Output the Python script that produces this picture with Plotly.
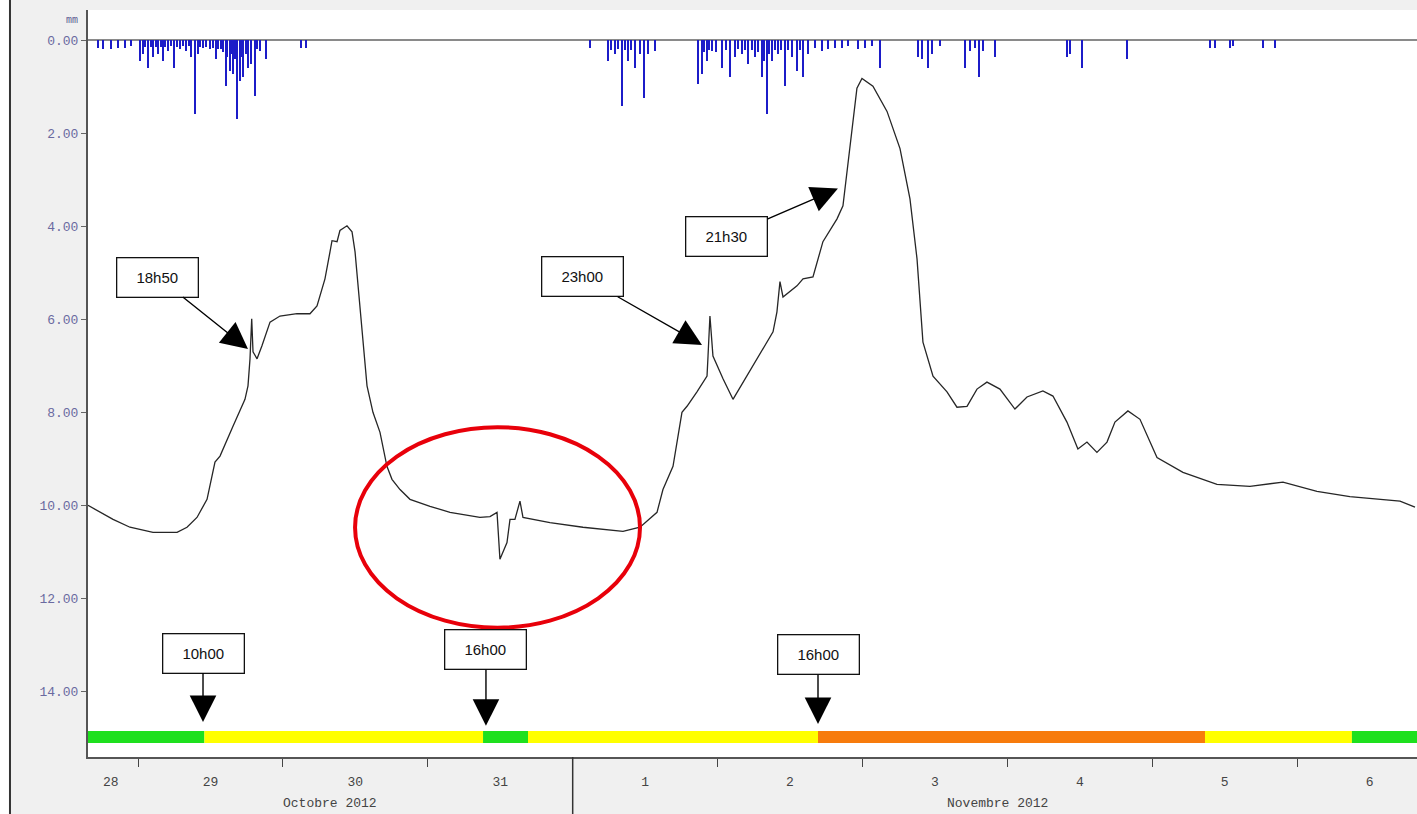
import plotly.graph_objects as go

# niveau (mm, axe inversé)
level_time = [
    "2012-10-28 15:43", "2012-10-28 19:52", "2012-10-28 22:40", "2012-10-29 02:29",
    "2012-10-29 06:28", "2012-10-29 08:07", "2012-10-29 09:46", "2012-10-29 11:26",
    "2012-10-29 12:45", "2012-10-29 13:35", "2012-10-29 15:44", "2012-10-29 17:43",
    "2012-10-29 18:13", "2012-10-29 18:33", "2012-10-29 18:50", "2012-10-29 19:03",
    "2012-10-29 19:43", "2012-10-29 20:32", "2012-10-29 21:52", "2012-10-29 23:31",
    "2012-10-30 02:20", "2012-10-30 04:29", "2012-10-30 05:39", "2012-10-30 06:58",
    "2012-10-30 07:48", "2012-10-30 08:08", "2012-10-30 08:58", "2012-10-30 09:27",
    "2012-10-30 10:37", "2012-10-30 11:27", "2012-10-30 11:57", "2012-10-30 12:46",
    "2012-10-30 13:56", "2012-10-30 14:55", "2012-10-30 16:05", "2012-10-30 17:14",
    "2012-10-30 18:04", "2012-10-30 19:24", "2012-10-30 21:03", "2012-10-31 00:22",
    "2012-10-31 03:41", "2012-10-31 08:38", "2012-10-31 10:18", "2012-10-31 11:28",
    "2012-10-31 11:57", "2012-10-31 13:07", "2012-10-31 13:37", "2012-10-31 14:26",
    "2012-10-31 15:16", "2012-10-31 15:46", "2012-10-31 20:14", "2012-11-01 01:42",
    "2012-11-01 08:20", "2012-11-01 11:09", "2012-11-01 13:58", "2012-11-01 14:57",
    "2012-11-01 16:37", "2012-11-01 18:06", "2012-11-01 18:56", "2012-11-01 20:35",
    "2012-11-01 22:15", "2012-11-01 22:25", "2012-11-01 22:44", "2012-11-01 23:14",
    "2012-11-02 00:54", "2012-11-02 02:33", "2012-11-02 06:32", "2012-11-02 09:11",
    "2012-11-02 09:50", "2012-11-02 10:20", "2012-11-02 10:50", "2012-11-02 13:09",
    "2012-11-02 14:09", "2012-11-02 15:48", "2012-11-02 17:27", "2012-11-02 19:47",
    "2012-11-02 20:46", "2012-11-02 21:26", "2012-11-02 22:16", "2012-11-02 23:05",
    "2012-11-02 23:55", "2012-11-03 01:44", "2012-11-03 04:04", "2012-11-03 06:13",
    "2012-11-03 07:52", "2012-11-03 09:02", "2012-11-03 10:01", "2012-11-03 11:41",
    "2012-11-03 14:00", "2012-11-03 15:39", "2012-11-03 17:19", "2012-11-03 18:58",
    "2012-11-03 20:37", "2012-11-03 22:46", "2012-11-04 01:15", "2012-11-04 03:15",
    "2012-11-04 05:53", "2012-11-04 07:33", "2012-11-04 09:52", "2012-11-04 11:41",
    "2012-11-04 13:11", "2012-11-04 14:50", "2012-11-04 16:30", "2012-11-04 17:49",
    "2012-11-04 19:58", "2012-11-04 21:58", "2012-11-05 00:47", "2012-11-05 05:05",
    "2012-11-05 10:43", "2012-11-05 16:11", "2012-11-05 21:39", "2012-11-06 03:17",
    "2012-11-06 08:44", "2012-11-06 17:02", "2012-11-06 19:31",
]
level_mm = [
    10.00, 10.30, 10.47, 10.58, 10.58, 10.47, 10.26, 9.87,
    9.07, 8.94, 8.30, 7.72, 7.43, 6.85, 5.99, 6.70,
    6.85, 6.57, 6.06, 5.93, 5.88, 5.88, 5.71, 5.13,
    4.55, 4.31, 4.33, 4.09, 3.99, 4.12, 4.55, 5.78,
    7.43, 8.00, 8.43, 9.16, 9.44, 9.66, 9.87, 10.02,
    10.15, 10.26, 10.24, 10.15, 11.16, 10.80, 10.30, 10.30,
    9.91, 10.26, 10.37, 10.47, 10.56, 10.47, 10.15, 9.66,
    9.16, 8.00, 7.87, 7.56, 7.22, 6.79, 5.93, 6.79,
    7.28, 7.72, 6.85, 6.27, 5.84, 5.19, 5.52, 5.28,
    5.13, 5.09, 4.33, 3.84, 3.56, 2.82, 1.83, 1.03,
    0.82, 0.99, 1.53, 2.33, 3.41, 4.70, 6.49, 7.22,
    7.56, 7.89, 7.87, 7.50, 7.35, 7.50, 7.93, 7.67,
    7.54, 7.65, 8.21, 8.79, 8.64, 8.86, 8.64, 8.21,
    7.97, 8.15, 8.97, 9.29, 9.55, 9.59, 9.50, 9.70,
    9.81, 9.91, 10.04,
]

# pluie (mm)
rain_time = [
    "2012-10-28 17:22", "2012-10-28 18:12", "2012-10-28 19:35", "2012-10-28 20:41",
    "2012-10-28 21:47", "2012-10-28 22:54", "2012-10-29 00:17", "2012-10-29 00:50",
    "2012-10-29 01:15", "2012-10-29 01:40", "2012-10-29 02:05", "2012-10-29 02:29",
    "2012-10-29 02:55", "2012-10-29 03:19", "2012-10-29 03:45", "2012-10-29 04:08",
    "2012-10-29 04:30", "2012-10-29 04:58", "2012-10-29 05:30", "2012-10-29 05:58",
    "2012-10-29 06:25", "2012-10-29 06:54", "2012-10-29 07:25", "2012-10-29 08:00",
    "2012-10-29 08:25", "2012-10-29 08:50", "2012-10-29 09:23", "2012-10-29 09:56",
    "2012-10-29 10:20", "2012-10-29 10:46", "2012-10-29 11:20", "2012-10-29 11:52",
    "2012-10-29 12:25", "2012-10-29 12:58", "2012-10-29 13:20", "2012-10-29 13:48",
    "2012-10-29 14:10", "2012-10-29 14:31", "2012-10-29 14:50", "2012-10-29 15:11",
    "2012-10-29 15:30", "2012-10-29 15:44", "2012-10-29 16:05", "2012-10-29 16:27",
    "2012-10-29 16:50", "2012-10-29 17:05", "2012-10-29 17:23", "2012-10-29 17:50",
    "2012-10-29 18:13", "2012-10-29 18:46", "2012-10-29 19:20", "2012-10-29 19:45",
    "2012-10-29 20:09", "2012-10-29 21:15", "2012-10-30 03:03", "2012-10-30 03:53",
    "2012-11-01 02:52", "2012-11-01 05:54", "2012-11-01 06:25", "2012-11-01 07:00",
    "2012-11-01 07:30", "2012-11-01 08:07", "2012-11-01 08:40", "2012-11-01 09:13",
    "2012-11-01 09:45", "2012-11-01 10:19", "2012-11-01 11:09", "2012-11-01 11:49",
    "2012-11-01 12:32", "2012-11-01 13:38", "2012-11-01 20:49", "2012-11-01 21:22",
    "2012-11-01 21:45", "2012-11-01 22:11", "2012-11-01 22:35", "2012-11-01 23:01",
    "2012-11-01 23:50", "2012-11-02 00:41", "2012-11-02 01:20", "2012-11-02 02:03",
    "2012-11-02 02:53", "2012-11-02 03:25", "2012-11-02 03:59", "2012-11-02 04:30",
    "2012-11-02 05:05", "2012-11-02 05:40", "2012-11-02 06:11", "2012-11-02 06:45",
    "2012-11-02 07:18", "2012-11-02 07:45", "2012-11-02 08:08", "2012-11-02 08:30",
    "2012-11-02 08:58", "2012-11-02 09:30", "2012-11-02 10:03", "2012-11-02 10:35",
    "2012-11-02 11:10", "2012-11-02 11:45", "2012-11-02 12:16", "2012-11-02 13:06",
    "2012-11-02 13:40", "2012-11-02 14:11", "2012-11-02 15:01", "2012-11-02 16:08",
    "2012-11-02 17:14", "2012-11-02 18:20", "2012-11-02 19:26", "2012-11-02 20:33",
    "2012-11-02 21:38", "2012-11-02 23:18", "2012-11-03 00:25", "2012-11-03 01:31",
    "2012-11-03 02:54", "2012-11-03 09:14", "2012-11-03 09:48", "2012-11-03 10:54",
    "2012-11-03 11:27", "2012-11-03 12:50", "2012-11-03 16:58", "2012-11-03 17:48",
    "2012-11-03 18:38", "2012-11-03 19:18", "2012-11-03 20:00", "2012-11-03 21:57",
    "2012-11-04 09:49", "2012-11-04 10:22", "2012-11-04 12:18", "2012-11-04 19:46",
    "2012-11-05 09:33", "2012-11-05 10:23", "2012-11-05 12:52", "2012-11-05 13:25",
    "2012-11-05 18:23", "2012-11-05 20:19",
]
rain_mm = [
    0.16, 0.19, 0.19, 0.16, 0.16, 0.12, 0.44, 0.30,
    0.15, 0.59, 0.14, 0.37, 0.15, 0.30, 0.14, 0.44,
    0.15, 0.23, 0.13, 0.59, 0.14, 0.19, 0.12, 0.23,
    0.13, 0.37, 1.59, 0.30, 0.14, 0.16, 0.15, 0.19,
    0.16, 0.41, 0.18, 0.19, 0.25, 0.98, 0.35, 0.66,
    0.30, 0.73, 0.40, 1.70, 0.88, 0.35, 0.80, 0.30,
    0.59, 0.52, 1.20, 0.18, 0.23, 0.41, 0.16, 0.16,
    0.16, 0.44, 0.20, 0.30, 0.18, 1.42, 0.22, 0.44,
    0.20, 0.59, 0.30, 1.24, 0.30, 0.23, 0.95, 0.73,
    0.25, 0.44, 0.20, 0.23, 0.25, 0.59, 0.22, 0.80,
    0.37, 0.18, 0.30, 0.20, 0.52, 0.22, 0.37, 0.25,
    0.80, 0.45, 1.59, 0.30, 0.44, 0.20, 0.30, 0.20,
    0.98, 0.22, 0.37, 0.66, 0.20, 0.80, 0.30, 0.16,
    0.23, 0.19, 0.16, 0.16, 0.12, 0.19, 0.16, 0.12,
    0.59, 0.37, 0.41, 0.59, 0.30, 0.12, 0.59, 0.23,
    0.16, 0.80, 0.23, 0.37, 0.37, 0.30, 0.59, 0.41,
    0.16, 0.16, 0.16, 0.12, 0.16, 0.16,
]

# bandeau de vigilance
band_edges = ["2012-10-28 15:43", "2012-10-29 11:00", "2012-10-31 09:09", "2012-10-31 16:36",
              "2012-11-02 16:38", "2012-11-05 08:44", "2012-11-06 09:04", "2012-11-06 19:51"]
band_state = ["vert", "jaune", "vert", "jaune", "orange", "jaune", "vert"]
band_level = 14.98
state_colors = {"vert": "#1ee01e", "jaune": "#ffff00", "orange": "#f77b0c"}

# étiquettes des jours
day_ticks = ["2012-10-28 19:30", "2012-10-29 12:00", "2012-10-30 12:00", "2012-10-31 12:00",
             "2012-11-01 12:00", "2012-11-02 12:00", "2012-11-03 12:00", "2012-11-04 12:00",
             "2012-11-05 12:00", "2012-11-06 12:00"]
day_labels = ["28", "29", "30", "31", "1", "2", "3", "4", "5", "6"]
midnights = ["2012-10-29", "2012-10-30", "2012-10-31", "2012-11-02",
             "2012-11-03", "2012-11-04", "2012-11-05", "2012-11-06"]

# repères horaires (texte, instant, niveau, décalage de la boîte)
callouts = [
    ("18h50", "2012-10-29 18:13", 6.64, -90, -72),
    ("23h00", "2012-11-01 21:25", 6.55, -119, -68),
    ("21h30", "2012-11-02 19:56", 3.19, -111, 48),
    ("10h00", "2012-10-29 10:46", 14.66, 0, -69),
    ("16h00", "2012-10-31 09:38", 14.74, 0, -76),
    ("16h00", "2012-11-02 16:38", 14.70, 0, -69),
]

mono = "Liberation Mono, DejaVu Sans Mono, monospace"

fig = go.Figure()

fig.add_trace(go.Bar(x=rain_time, y=rain_mm, width=700000,
                     marker=dict(color="#1c1cc8", line=dict(width=0)),
                     showlegend=False, hoverinfo="x+y"))

fig.add_trace(go.Scatter(x=level_time, y=level_mm, mode="lines",
                         line=dict(color="#262626", width=1.3),
                         showlegend=False))

for i, st in enumerate(band_state):
    fig.add_trace(go.Scatter(x=[band_edges[i], band_edges[i + 1]], y=[band_level, band_level],
                             mode="lines", line=dict(color=state_colors[st], width=12),
                             showlegend=False, hoverinfo="skip"))

for text, t, v, ax, ay in callouts:
    fig.add_annotation(x=t, y=v, text=text, showarrow=True,
                       ax=ax, ay=ay, arrowhead=2, arrowsize=3.8, arrowwidth=1.4,
                       arrowcolor="black", bgcolor="white", bordercolor="#111",
                       borderwidth=1.3, borderpad=10, width=60, height=18,
                       font=dict(family="Liberation Sans, Arial", size=15, color="#111"))

# cercle rouge autour de l'anomalie
fig.add_shape(type="circle", xref="x", yref="y",
              x0="2012-10-30 11:57", x1="2012-11-01 11:09", y0=8.32, y1=12.63,
              line=dict(color="#e8000a", width=4))

# séparation des mois
fig.add_shape(type="line", xref="x", yref="paper", x0="2012-11-01", x1="2012-11-01",
              y0=0, y1=-0.08, line=dict(color="#333", width=1.5))

# cadre gauche de la capture
fig.add_shape(type="rect", xref="paper", yref="paper", x0=-0.07, x1=-0.0587, y0=-0.08, y1=1.02,
              fillcolor="white", line=dict(width=0), layer="below")
fig.add_shape(type="line", xref="paper", yref="paper", x0=-0.0587, x1=-0.0587, y0=-0.08, y1=1.02,
              line=dict(color="#333", width=2))

fig.add_annotation(text="Octobre 2012", x="2012-10-30 07:48", y=-0.0755, xref="x", yref="paper",
                   showarrow=False, font=dict(family=mono, size=13, color="#444"))
fig.add_annotation(text="Novembre 2012", x="2012-11-03 22:26", y=-0.0755, xref="x", yref="paper",
                   showarrow=False, font=dict(family=mono, size=13, color="#444"))
fig.add_annotation(text="mm", x=-0.006, y=0.986, xref="paper", yref="paper", xanchor="right",
                   yanchor="middle", showarrow=False,
                   font=dict(family=mono, size=10, color="#5a5a90"))

fig.update_layout(
    width=1417, height=814,
    margin=dict(l=88, r=0, t=10, b=57),
    paper_bgcolor="#f0f0f0",
    plot_bgcolor="white",
    bargap=0,
    xaxis=dict(
        type="date",
        range=["2012-10-28 15:43", "2012-11-06 19:51"],
        tickmode="array", tickvals=day_ticks, ticktext=day_labels,
        ticks="", ticklabelstandoff=11,
        tickfont=dict(family=mono, size=13, color="#444"),
        showgrid=False, zeroline=False,
        showline=True, linecolor="#555", linewidth=2,
        minor=dict(tickmode="array", tickvals=midnights, ticks="outside",
                   ticklen=8, tickcolor="#444", tickwidth=1.3, showgrid=False),
    ),
    yaxis=dict(
        range=[15.41, -0.65],
        tickmode="array", tickvals=[0, 2, 4, 6, 8, 10, 12, 14],
        tickformat=".2f",
        ticks="outside", ticklen=5, tickcolor="#666",
        tickfont=dict(family=mono, size=13, color="#6a6aa0"),
        showgrid=False,
        zeroline=True, zerolinecolor="#8a8a8a", zerolinewidth=2,
        showline=True, linecolor="#555", linewidth=2,
    ),
)

# la page html a une marge de 8 px par défaut : on la retire
fig.write_html("out.html", config={"responsive": False, "displayModeBar": False},
               post_script="document.body.style.margin='0';"
                           "Plotly.relayout('{plot_id}', {width: 1417, height: 814});")
